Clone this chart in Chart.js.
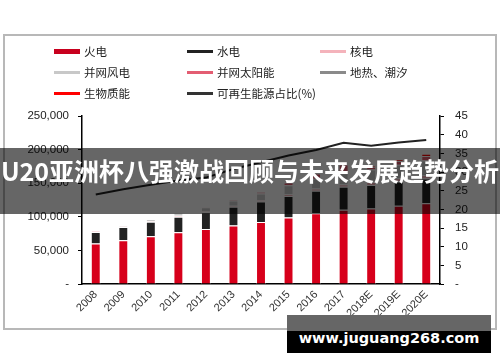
<!DOCTYPE html>
<html>
<head>
<meta charset="utf-8">
<script src="https://cdn.jsdelivr.net/npm/chart.js@4.4.0/dist/chart.umd.min.js"></script>
<style>
    body { margin: 0; width: 500px; height: 362px; background: #fff; position: relative; overflow: hidden; }
    #frame { position: absolute; left: 3px; top: 34px; width: 490px; height: 292px; border: 2px solid #b8b8b8; }
    #chart-wrap { position: absolute; left: 0; top: 0; width: 500px; height: 362px; }
    .legend-item { position: absolute; height: 16px; display: flex; align-items: center; font: 11.5px "Noto Sans CJK SC"; color: #222; white-space: nowrap; }
    .legend-line { width: 26px; margin-right: 4px; }
    #banner { position: absolute; left: 0; top: 148px; width: 500px; height: 66px; background: rgba(0, 0, 0, 0.6); }
    #banner-text { position: absolute; left: -20px; top: 0; width: 540px; line-height: 66px; text-align: center; color: #fff;
                   font: bold 25px "Noto Sans CJK SC"; white-space: nowrap; padding-top: 4px; }
    #wm-grey { position: absolute; left: 287px; top: 315px; width: 204px; height: 16px; background: #666; }
    #wm-black { position: absolute; left: 287px; top: 331px; width: 204px; height: 22px; background: #000; }
    #wm-text { position: absolute; left: 287px; top: 330px; width: 204px; line-height: 16px; text-align: center; color: #fff;
               font: bold 14.5px "DejaVu Sans"; white-space: nowrap; }
</style>
</head>
<body>
<div id="frame"></div>
<div id="chart-wrap"><canvas id="power-chart" width="500" height="362"></canvas></div>
<div id="legend"></div>
<div id="banner"><div id="banner-text">U20亚洲杯八强激战回顾与未来发展趋势分析</div></div>
<div id="wm-grey"></div>
<div id="wm-black"></div>
<div id="wm-text">www.juguang268.com</div>
<script>
// Installed capacity (万千瓦) per year
const years = ['2008', '2009', '2010', '2011', '2012', '2013', '2014', '2015', '2016', '2017', '2018E', '2019E', '2020E'];
const thermal = [60286, 65108, 70967, 76834, 81968, 87009, 92363, 99021, 105388, 110604, 112500, 116500, 120000];
const hydro = [17260, 19629, 21606, 23298, 24947, 28044, 30486, 31954, 33207, 34119, 35000, 36000, 37000];
const nuclear = [908, 908, 1082, 1257, 1257, 1466, 2008, 2717, 3364, 3582, 4400, 4900, 5300];
const wind = [839, 1613, 2958, 4623, 6142, 7652, 9657, 13075, 14747, 16367, 18500, 20000, 21500];
const solar = [0, 3, 26, 212, 341, 1589, 2486, 4218, 7631, 13025, 4000, 5500, 6500];
const geoTidal = [0, 0, 0, 0, 0, 0, 0, 0, 0, 0, 0, 0, 0];
const biomass = [0, 0, 0, 0, 0, 0, 0, 0, 0, 0, 2000, 2500, 3500];
// Renewable share (%), right axis
const renewableShare = [24.0, 25.4, 26.6, 27.7, 28.5, 30.8, 32.6, 34.4, 35.9, 37.8, 37.0, 37.9, 38.6];

const leftTicks = [0, 50000, 100000, 150000, 200000, 250000];
const rightTicks = [0, 5, 10, 15, 20, 25, 30, 35, 40, 45];

document.addEventListener("DOMContentLoaded", function() {
    function barSet(label, data, color) {
        return {
            type: 'bar', label: label, data: data, backgroundColor: color, legendColor: color,
            borderColor: '#fff', borderWidth: 1, yAxisID: 'y', order: 2,
            barPercentage: 0.45, categoryPercentage: 0.8
        };
    }

    const datasets = [
        barSet('火电', thermal, '#d7001b'),
        barSet('水电', hydro, '#222222'),
        barSet('核电', nuclear, '#f4b3bb'),
        barSet('并网风电', wind, '#c8c8c8'),
        barSet('并网太阳能', solar, '#e35d72'),
        barSet('地热、潮汐', geoTidal, '#8a8a8a'),
        barSet('生物质能', biomass, '#ff0000'),
        {
            type: 'line', label: '可再生能源占比(%)', data: renewableShare, yAxisID: 'y1', order: 1,
            borderColor: '#222', legendColor: '#333', borderWidth: 2, pointRadius: 0, tension: 0, fill: false
        }
    ];
    datasets[0].legendColor = '#c8001e';

    const tickFont = { family: '"Liberation Sans", Arial, sans-serif', size: 11.5 };

    const chart = new Chart(document.getElementById('power-chart'), {
        type: 'bar',
        data: { labels: years, datasets: datasets },
        options: {
            responsive: false,
            animation: false,
            layout: { padding: { top: 116, left: 0, right: 0, bottom: 0 } },
            plugins: { legend: { display: false }, tooltip: { enabled: false } },
            scales: {
                x: {
                    stacked: true,
                    grid: { display: true, drawOnChartArea: false, drawTicks: false },
                    border: { display: true, color: '#000', width: 1.5 },
                    ticks: { color: '#333', font: { family: '"Liberation Sans", Arial, sans-serif', size: 11 },
                             minRotation: 45, maxRotation: 45, padding: 4 },
                    afterFit: function(scale) { scale.height = 78; }
                },
                y: {
                    stacked: true, position: 'left', min: 0, max: 250000,
                    afterBuildTicks: function(scale) { scale.ticks = leftTicks.map(v => ({ value: v })); },
                    grid: { drawOnChartArea: false, color: '#000', tickLength: 4 },
                    border: { display: true, color: '#000', width: 1.5 },
                    ticks: { color: '#222', font: tickFont, padding: 9,
                             callback: v => v === 0 ? '-' : v.toLocaleString('en-US') },
                    afterFit: function(scale) { scale.width = 82; }
                },
                y1: {
                    position: 'right', min: 0, max: 45,
                    afterBuildTicks: function(scale) { scale.ticks = rightTicks.map(v => ({ value: v })); },
                    grid: { drawOnChartArea: false, color: '#000', tickLength: 4 },
                    border: { display: true, color: '#000', width: 1.5 },
                    ticks: { color: '#222', font: tickFont, padding: 11,
                             callback: v => v === 0 ? '-' : v },
                    afterFit: function(scale) { scale.width = 60; }
                }
            }
        }
    });

    // Legend in a 3-column grid like the original
    const legend = document.getElementById('legend');
    const colX = [54, 187, 320];
    const rowY = [51, 72, 93];
    chart.data.datasets.forEach((ds, i) => {
        const item = document.createElement('div');
        item.className = 'legend-item';
        item.style.left = colX[i % 3] + 'px';
        item.style.top = (rowY[Math.floor(i / 3)] - 8) + 'px';
        const line = document.createElement('span');
        line.className = 'legend-line';
        line.style.background = ds.legendColor;
        line.style.height = (i === 0 ? 5 : 3) + 'px';
        item.appendChild(line);
        item.appendChild(document.createTextNode(ds.label));
        legend.appendChild(item);
    });
});
</script>
</body>
</html>
